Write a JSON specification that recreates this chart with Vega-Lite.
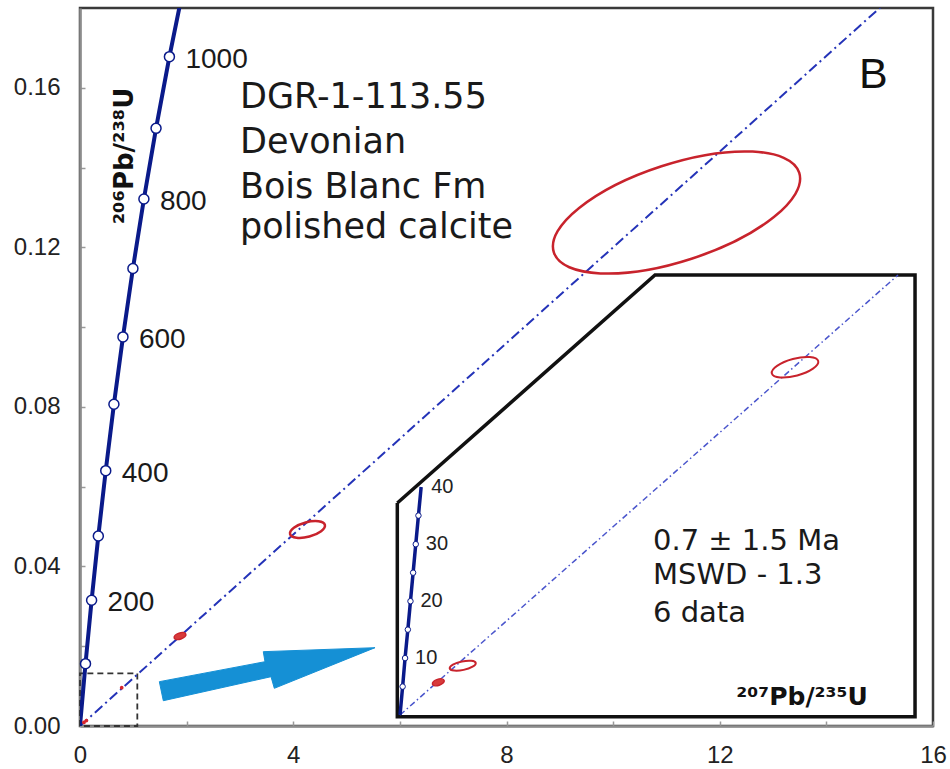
{
  "$schema": "https://vega.github.io/schema/vega-lite/v6.json",
  "width": 853,
  "height": 718,
  "autosize": {"type": "none"},
  "padding": {"left": 80, "top": 8, "right": 17, "bottom": 43},
  "background": "white",
  "config": {
    "view": {"stroke": "#3a3a3a", "strokeWidth": 2.5},
    "axis": {
      "grid": false,
      "title": null,
      "domainColor": "#8c8c8c",
      "domainWidth": 2.5,
      "tickColor": "#9a9a9a",
      "tickWidth": 1.5,
      "tickSize": -5,
      "labelFont": "Liberation Sans",
      "labelFontSize": 24,
      "labelColor": "#222222",
      "labelOverlap": false,
      "labelFlush": false,
      "labelBound": false
    }
  },
  "datasets": {
    "concordia": [
      {"t": 0, "x": 0, "y": 0},
      {"t": 100, "x": 0.103498, "y": 0.015633},
      {"t": 200, "x": 0.217708, "y": 0.031511},
      {"t": 300, "x": 0.343736, "y": 0.047637},
      {"t": 400, "x": 0.482811, "y": 0.064016},
      {"t": 500, "x": 0.63628, "y": 0.08065},
      {"t": 600, "x": 0.805631, "y": 0.097544},
      {"t": 700, "x": 0.99251, "y": 0.114702},
      {"t": 800, "x": 1.198729, "y": 0.132129},
      {"t": 900, "x": 1.426295, "y": 0.149828},
      {"t": 1000, "x": 1.67741, "y": 0.167802},
      {"t": 1100, "x": 1.954516, "y": 0.186057}
    ],
    "insetConcordia": [
      {"t": 0, "x": 6.003, "y": 0.00276},
      {"t": 5, "x": 6.0516, "y": 0.00988},
      {"t": 10, "x": 6.0975, "y": 0.01702},
      {"t": 15, "x": 6.1495, "y": 0.02416},
      {"t": 20, "x": 6.1988, "y": 0.03129},
      {"t": 25, "x": 6.2484, "y": 0.03843},
      {"t": 30, "x": 6.2981, "y": 0.04558},
      {"t": 35, "x": 6.3481, "y": 0.05275},
      {"t": 40, "x": 6.3987, "y": 0.05991}
    ],
    "discordia": [
      {"x": 0, "y": 0},
      {"x": 16, "y": 0.192}
    ],
    "insetDiscordia": [
      {"x": 6.003, "y": 0.00276},
      {"x": 15.344, "y": 0.11306}
    ],
    "zoomBox": [
      {"i": 1, "x": 0, "y": 0},
      {"i": 2, "x": 0, "y": 0.0132},
      {"i": 3, "x": 1.075, "y": 0.0132},
      {"i": 4, "x": 1.075, "y": 0},
      {"i": 5, "x": 0, "y": 0}
    ],
    "insetFrame": [
      {"i": 1, "x": 5.952, "y": 0.0559},
      {"i": 2, "x": 5.952, "y": 0.00233},
      {"i": 3, "x": 15.663, "y": 0.00233},
      {"i": 4, "x": 15.663, "y": 0.11306},
      {"i": 5, "x": 10.786, "y": 0.11306},
      {"i": 6, "x": 5.952, "y": 0.0559}
    ],
    "arrow": [
      {"i": 1, "x": 1.488, "y": 0.01111},
      {"i": 2, "x": 3.47, "y": 0.01612},
      {"i": 3, "x": 3.438, "y": 0.01863},
      {"i": 4, "x": 5.534, "y": 0.01963},
      {"i": 5, "x": 3.645, "y": 0.00945},
      {"i": 6, "x": 3.583, "y": 0.01236},
      {"i": 7, "x": 1.563, "y": 0.00634},
      {"i": 8, "x": 1.488, "y": 0.01111}
    ],
    "grains": [
      {"id": "E1", "x": 11.189, "y": 0.12873},
      {"id": "E2", "x": 4.267, "y": 0.04926},
      {"id": "E3", "x": 1.876, "y": 0.02256},
      {"id": "E4", "x": 0.782, "y": 0.0096},
      {"id": "E5", "x": 0.12, "y": 0.00135},
      {"id": "E6", "x": 0.073, "y": 0.0009},
      {"id": "I1", "x": 13.412, "y": 0.08993},
      {"id": "I2", "x": 7.179, "y": 0.01512},
      {"id": "I3", "x": 6.721, "y": 0.01096}
    ],
    "notes": [
      {"kind": "title", "x": 3.0, "y": 0.15485, "text": "DGR-1-113.55"},
      {"kind": "title", "x": 3.0, "y": 0.14357, "text": "Devonian"},
      {"kind": "title", "x": 3.0, "y": 0.13229, "text": "Bois Blanc Fm"},
      {"kind": "title", "x": 3.0, "y": 0.12226, "text": "polished calcite"},
      {"kind": "panel", "x": 14.612, "y": 0.15994, "text": "B"},
      {"kind": "ytitle", "x": 0.994, "y": 0.1429, "text": "²⁰⁶Pb/²³⁸U"},
      {"kind": "stats", "x": 10.748, "y": 0.04412, "text": "0.7 ± 1.5 Ma"},
      {"kind": "stats", "x": 10.748, "y": 0.0356, "text": "MSWD - 1.3"},
      {"kind": "stats", "x": 10.748, "y": 0.02615, "text": "6 data"},
      {"kind": "xtitle", "x": 13.543, "y": 0.00526, "text": "²⁰⁷Pb/²³⁵U"}
    ]
  },
  "encoding": {
    "x": {
      "field": "x",
      "type": "quantitative",
      "scale": {"domain": [0, 16], "nice": false, "zero": false},
      "axis": {
        "values": [0, 2, 4, 6, 8, 10, 12, 14, 16],
        "format": "d",
        "labelExpr": "datum.value % 4 === 0 ? datum.label : ''",
        "labelPadding": 22
      }
    },
    "y": {
      "field": "y",
      "type": "quantitative",
      "scale": {"domain": [0, 0.18], "nice": false, "zero": false},
      "axis": {
        "values": [0, 0.02, 0.04, 0.06, 0.08, 0.1, 0.12, 0.14, 0.16],
        "format": ".2f",
        "labelExpr": "round(datum.value * 100) % 4 === 0 ? datum.label : ''",
        "labelPadding": 25
      }
    }
  },
  "layer": [
    {
      "data": {"name": "zoomBox"},
      "mark": {"type": "line", "color": "#333333", "strokeWidth": 1.8, "strokeDash": [6, 4]},
      "encoding": {"order": {"field": "i", "type": "quantitative"}}
    },
    {
      "data": {"name": "discordia"},
      "mark": {"type": "line", "color": "#2433b8", "strokeWidth": 2, "strokeDash": [10, 4, 2, 4], "clip": true},
      "encoding": {}
    },
    {
      "data": {"name": "insetFrame"},
      "mark": {"type": "line", "color": "#111111", "strokeWidth": 3.5, "strokeJoin": "miter"},
      "encoding": {"order": {"field": "i", "type": "quantitative"}}
    },
    {
      "data": {"name": "insetDiscordia"},
      "mark": {"type": "line", "color": "#4a55cc", "strokeWidth": 1.5, "strokeDash": [6, 3, 1.5, 3]},
      "encoding": {}
    },
    {
      "data": {"name": "insetConcordia"},
      "mark": {"type": "line", "color": "#0a1a8a", "strokeWidth": 3.5, "interpolate": "monotone"},
      "encoding": {}
    },
    {
      "data": {"name": "insetConcordia"},
      "transform": [{"filter": "datum.t > 0 && datum.t < 40"}],
      "mark": {"type": "point", "shape": "circle", "size": 30, "filled": true, "fill": "white", "stroke": "#0a1a8a", "strokeWidth": 1, "opacity": 1},
      "encoding": {}
    },
    {
      "data": {"name": "insetConcordia"},
      "transform": [{"filter": "datum.t > 0 && datum.t % 10 === 0"}],
      "mark": {"type": "text", "align": "left", "baseline": "middle", "dx": 10, "dy": 0, "font": "Liberation Sans", "fontSize": 20, "color": "#222222"},
      "encoding": {"text": {"field": "t", "type": "quantitative", "format": "d"}}
    },
    {
      "data": {"name": "concordia"},
      "mark": {"type": "line", "color": "#0a1a8a", "strokeWidth": 4, "interpolate": "monotone", "clip": true},
      "encoding": {}
    },
    {
      "data": {"name": "concordia"},
      "transform": [{"filter": "datum.t > 0 && datum.t <= 1000"}],
      "mark": {"type": "point", "shape": "circle", "size": 100, "filled": true, "fill": "white", "stroke": "#0a1a8a", "strokeWidth": 1.5, "opacity": 1},
      "encoding": {}
    },
    {
      "data": {"name": "concordia"},
      "transform": [{"filter": "datum.t > 0 && datum.t <= 1000 && datum.t % 200 === 0"}],
      "mark": {"type": "text", "align": "left", "baseline": "middle", "dx": 16, "dy": 3, "font": "Liberation Sans", "fontSize": 28, "color": "#1a1a1a"},
      "encoding": {"text": {"field": "t", "type": "quantitative", "format": "d"}}
    },
    {
      "data": {"name": "grains"},
      "transform": [{"filter": "datum.id === 'E1'"}],
      "mark": {"type": "point", "shape": "M-1,0A1,0.377,0,1,1,1,0A1,0.377,0,1,1,-1,0Z", "size": 66564, "angle": -18, "filled": false, "stroke": "#c8232c", "strokeWidth": 2.5, "opacity": 1},
      "encoding": {}
    },
    {
      "data": {"name": "grains"},
      "transform": [{"filter": "datum.id === 'E2'"}],
      "mark": {"type": "point", "shape": "M-1,0A1,0.406,0,1,1,1,0A1,0.406,0,1,1,-1,0Z", "size": 1296, "angle": -15, "filled": false, "stroke": "#c8232c", "strokeWidth": 2.5, "opacity": 1},
      "encoding": {}
    },
    {
      "data": {"name": "grains"},
      "transform": [{"filter": "datum.id === 'I1'"}],
      "mark": {"type": "point", "shape": "M-1,0A1,0.354,0,1,1,1,0A1,0.354,0,1,1,-1,0Z", "size": 2304, "angle": -15, "filled": false, "stroke": "#c8232c", "strokeWidth": 2, "opacity": 1},
      "encoding": {}
    },
    {
      "data": {"name": "grains"},
      "transform": [{"filter": "datum.id === 'I2'"}],
      "mark": {"type": "point", "shape": "M-1,0A1,0.323,0,1,1,1,0A1,0.323,0,1,1,-1,0Z", "size": 707, "angle": -12, "filled": false, "stroke": "#c8232c", "strokeWidth": 2, "opacity": 1},
      "encoding": {}
    },
    {
      "data": {"name": "grains"},
      "transform": [{"filter": "datum.id === 'E3' || datum.id === 'I3'"}],
      "mark": {"type": "point", "shape": "M-1,0A1,0.5,0,1,1,1,0A1,0.5,0,1,1,-1,0Z", "size": 150, "angle": -18, "filled": true, "fill": "#d83a3a", "stroke": "#c8232c", "strokeWidth": 1.5, "opacity": 1},
      "encoding": {}
    },
    {
      "data": {"name": "grains"},
      "transform": [{"filter": "datum.id === 'E4' || datum.id === 'E5' || datum.id === 'E6'"}],
      "mark": {"type": "point", "shape": "circle", "size": 14, "filled": true, "color": "#d8262c", "opacity": 1},
      "encoding": {}
    },
    {
      "data": {"name": "arrow"},
      "mark": {"type": "line", "fill": "#1590d5", "stroke": "#1590d5", "strokeWidth": 1, "strokeJoin": "miter"},
      "encoding": {"order": {"field": "i", "type": "quantitative"}}
    },
    {
      "data": {"name": "notes"},
      "transform": [{"filter": "datum.kind === 'title'"}],
      "mark": {"type": "text", "align": "left", "baseline": "alphabetic", "font": "DejaVu Sans", "fontSize": 35, "color": "#1a1a1a"},
      "encoding": {"text": {"field": "text"}}
    },
    {
      "data": {"name": "notes"},
      "transform": [{"filter": "datum.kind === 'panel'"}],
      "mark": {"type": "text", "align": "left", "baseline": "alphabetic", "font": "Liberation Sans", "fontSize": 43, "color": "#111111"},
      "encoding": {"text": {"field": "text"}}
    },
    {
      "data": {"name": "notes"},
      "transform": [{"filter": "datum.kind === 'ytitle'"}],
      "mark": {"type": "text", "align": "center", "baseline": "alphabetic", "angle": 270, "font": "DejaVu Sans", "fontWeight": "bold", "fontSize": 26, "color": "#111111"},
      "encoding": {"text": {"field": "text"}}
    },
    {
      "data": {"name": "notes"},
      "transform": [{"filter": "datum.kind === 'stats'"}],
      "mark": {"type": "text", "align": "left", "baseline": "alphabetic", "font": "DejaVu Sans", "fontSize": 29, "color": "#1a1a1a"},
      "encoding": {"text": {"field": "text"}}
    },
    {
      "data": {"name": "notes"},
      "transform": [{"filter": "datum.kind === 'xtitle'"}],
      "mark": {"type": "text", "align": "center", "baseline": "alphabetic", "font": "DejaVu Sans", "fontWeight": "bold", "fontSize": 25, "color": "#111111"},
      "encoding": {"text": {"field": "text"}}
    }
  ]
}
